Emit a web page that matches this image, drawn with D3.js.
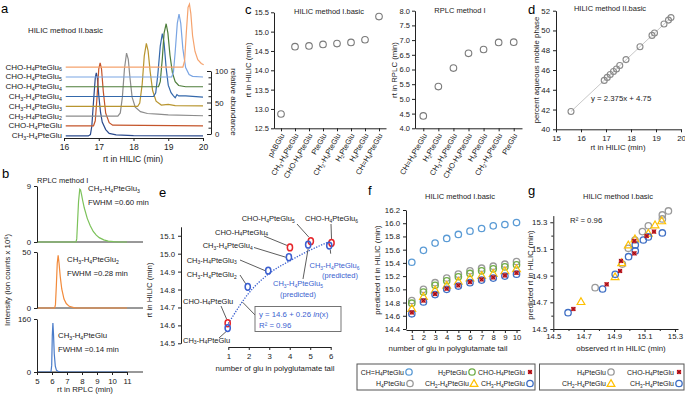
<!DOCTYPE html>
<html>
<head>
<meta charset="utf-8">
<script src="https://cdn.jsdelivr.net/npm/d3@7"></script>
<style>
  body { margin: 0; background: #fff; }
  svg { font-family: "Liberation Sans", Arial, sans-serif; }
</style>
</head>
<body>
<svg id="fig" width="685" height="395"></svg>
<script>
// ---------- data ----------
// a: HILIC chromatograms, [rt, relative abundance]
const aNames = ["CH_3-H_4PteGlu", "CHO-H_4PteGlu", "CH_3-H_4PteGlu_2", "CH_3-H_4PteGlu_3",
  "CH_3-H_4PteGlu_4", "CHO-H_4PteGlu_4", "CHO-H_4PteGlu_5", "CHO-H_4PteGlu_6"];
const aTraces = [
  [[16.05,0],[16.7,0],[16.76,2],[16.8,15],[16.85,55],[16.9,92],[16.93,100],[16.96,92],[17.0,65],[17.05,38],[17.1,22],[17.2,10],[17.3,4],[17.5,1.5],[18,0.5],[20,0]],
  [[16.05,0],[16.85,0],[16.9,8],[16.95,45],[17.0,90],[17.04,100],[17.08,90],[17.13,55],[17.2,20],[17.3,5],[17.4,1],[20,0]],
  [[16.05,0],[17.55,0],[17.62,5],[17.68,30],[17.74,75],[17.8,100],[17.85,90],[17.9,60],[17.96,30],[18.05,14],[18.2,7],[18.4,4],[18.7,3],[19,2],[20,0.5]],
  [[16.05,0],[18.12,0],[18.18,5],[18.25,35],[18.31,80],[18.37,100],[18.42,88],[18.48,55],[18.55,25],[18.65,8],[18.8,2],[19.0,3],[19.2,1],[20,0.5]],
  [[16.05,0],[18.58,0],[18.64,6],[18.7,35],[18.77,80],[18.83,100],[18.88,85],[18.94,45],[19.0,18],[19.08,6],[19.15,1],[19.2,-2],[19.25,3],[19.3,1],[19.5,1],[20,-1]],
  [[16.05,0],[18.72,0],[18.77,8],[18.83,45],[18.88,85],[18.94,100],[18.99,85],[19.05,50],[19.12,22],[19.2,8],[19.3,2],[19.5,0],[20,0]],
  [[16.05,0],[19.1,0],[19.15,8],[19.2,40],[19.26,85],[19.31,100],[19.36,85],[19.42,45],[19.5,15],[19.6,4],[19.7,1],[20,0]],
  [[16.05,0],[19.42,0],[19.47,10],[19.52,55],[19.57,95],[19.61,100],[19.65,85],[19.7,50],[19.77,25],[19.85,12],[19.95,6],[20.02,4]]
];

// b: RPLC peaks, [rt, intensity x 10^6]
const bNames = ["CH_3-H_4PteGlu_3", "CH_3-H_4PteGlu_2", "CH_3-H_4PteGlu"];
const bFwhm = ["FWHM =0.60 min", "FWHM =0.28 min", "FWHM =0.14 min"];
const bMax = [9, 50, 160];
const bTraces = [
  [[5,0],[7.6,0],[7.65,0.5],[7.7,3],[7.77,6.5],[7.85,8.5],[7.9,8.4],[7.97,7.6],[8.05,6.6],[8.15,5.5],[8.35,3.8],[8.55,2.6],[8.75,1.7],[8.95,1.1],[9.15,0.7],[9.45,0.35],[9.75,0.15],[10.1,0.05],[10.4,0],[11,0]],
  [[5,0],[6.18,0],[6.23,3],[6.29,20],[6.35,40],[6.41,47],[6.47,40],[6.55,28],[6.65,17],[6.8,8],[6.95,4],[7.15,1.5],[7.45,0.3],[7.65,0],[11,0]],
  [[5,0],[5.93,0],[5.98,20],[6.02,110],[6.06,148],[6.1,115],[6.15,55],[6.22,18],[6.3,5],[6.45,1],[6.6,0],[11,0]]
];

// c: retention times of monoglutamates
const cHilicCats = ["pABGlu", "CH_3-H_4PteGlu", "CHO-H_4PteGlu", "PteGlu", "CH_2-H_4PteGlu", "H_2PteGlu", "H_4PteGlu", "CH=H_4PteGlu"];
const cHilicRt = [12.87, 14.61, 14.63, 14.67, 14.69, 14.72, 14.79, 15.39];
const cRplcCats = ["CH=H_4PteGlu", "H_2PteGlu", "CH_3-H_4PteGlu", "CHO-H_4PteGlu", "H_4PteGlu", "CH_2-H_4PteGlu", "PteGlu"];
const cRplcRt = [4.42, 5.42, 6.05, 6.55, 6.68, 6.92, 6.93];

// d: rt vs percent aqueous phase
const dRt = [15.6, 16.93, 17.05, 17.17, 17.3, 17.42, 17.55, 17.8, 18.36, 18.84, 18.94, 19.32, 19.5, 19.6];
const dPct = [41.8, 44.95, 45.25, 45.55, 45.85, 46.1, 46.45, 47.05, 48.35, 49.5, 49.75, 50.65, 51.05, 51.3];
const dEquation = "y = 2.375x + 4.75";

// e: rt vs number of glutamates
const eFitGlu = [1, 2, 3, 4, 5, 6];
const eFitRt = [14.61, 14.78, 14.89, 14.96, 15.02, 15.07];
const eCh3Glu = [0.97, 1.95, 2.95, 3.96, 4.9, 5.93];
const eCh3Rt = [14.585, 14.815, 14.905, 14.98, 15.05, 15.045];
const eChoGlu = [0.97, 4.01, 5.03, 6.04];
const eChoRt = [14.612, 15.035, 15.07, 15.06];

// f: predicted rt per glu count
const fGlu = [1, 2, 3, 4, 5, 6, 7, 8, 9, 10];
const fNames = ["CH=H_4PteGlu", "H_4PteGlu", "H_2PteGlu", "CH_2-H_4PteGlu", "CH_3-H_4PteGlu", "CHO-H_4PteGlu"];
const fPred = [
  [15.41, 15.59, 15.70, 15.77, 15.83, 15.88, 15.92, 15.96, 15.98, 16.01],
  [14.83, 15.00, 15.10, 15.17, 15.23, 15.28, 15.32, 15.35, 15.38, 15.42],
  [14.79, 14.96, 15.06, 15.13, 15.19, 15.24, 15.28, 15.31, 15.34, 15.37],
  [14.71, 14.89, 14.99, 15.06, 15.12, 15.17, 15.21, 15.24, 15.28, 15.31],
  [14.63, 14.81, 14.92, 15.00, 15.05, 15.10, 15.14, 15.17, 15.20, 15.23],
  [14.65, 14.83, 14.93, 15.01, 15.06, 15.11, 15.15, 15.18, 15.21, 15.25]
];

// g: observed vs predicted
const gNames = ["H_4PteGlu", "CH_2-H_4PteGlu", "CH_3-H_4PteGlu", "CHO-H_4PteGlu"];
const gObs = [
  [14.775, 14.954, 14.993, 15.037, 15.086, 15.125, 15.217, 15.217, 15.257],
  [14.682, 14.906, 14.95, 14.993, 15.037, 15.125, 15.169, 15.213],
  [14.597, 14.824, 14.907, 14.995, 15.039, 15.039, 15.092, 15.125, 15.217],
  [14.632, 14.851, 14.939, 14.945, 15.033, 15.033, 15.114, 15.162]
];
const gPred = [
  [14.81, 14.987, 15.105, 15.167, 15.23, 15.274, 15.355, 15.325, 15.385],
  [14.705, 14.892, 14.997, 15.13, 15.175, 15.217, 15.28, 15.31],
  [14.622, 14.80, 14.91, 15.042, 15.085, 15.13, 15.167, 15.19, 15.22],
  [14.65, 14.835, 14.935, 15.01, 15.067, 15.16, 15.197, 15.23]
];

// ---------- styles ----------
const aColors = ["#2b4a8c", "#c4552b", "#8c8c8c", "#b8952f", "#3468ab", "#4d7d3a", "#7aa5e3", "#f5a36e"];
const aOffsets = [-3, 13, 28.5, 44, 59.5, 75, 90.5, 106];
const bColors = ["#7cc25a", "#f28a3a", "#4a7cc9"];
const seriesStyle = {
  "CH=H_4PteGlu": { shape: "circle", color: "#5b9bd5" },
  "H_4PteGlu": { shape: "circle", color: "#9a9a9a" },
  "H_2PteGlu": { shape: "circle", color: "#70ad47" },
  "CH_2-H_4PteGlu": { shape: "triangle", color: "#ffc000" },
  "CHO-H_4PteGlu": { shape: "xbox", color: "#d9272e" },
  "CH_3-H_4PteGlu": { shape: "circle", color: "#3f6fc4" }
};
const eBlue = "#3b5fcf", eRed = "#e6262b";
const FS = 7.8;

const svg = d3.select("#fig");

// text with subscripts: "CH_3" -> CH + sub 3
function chem(text, s, size) {
  const parts = s.split(/_(\d)/);
  let sub = false;
  parts.forEach((p, i) => {
    if (p === "") return;
    const t = text.append("tspan").text(p);
    if (i % 2 === 1) { t.attr("font-size", size * 0.66).attr("dy", size * 0.22); sub = true; }
    else if (sub) { t.attr("dy", -size * 0.22); sub = false; }
  });
}

function styleAxis(g) {
  g.attr("font-size", FS).attr("font-family", null);
  g.selectAll("line,path").attr("stroke", "#222");
  g.selectAll("text").attr("fill", "#222");
}

function label(x, y, str, opts = {}) {
  const t = svg.append("text").attr("x", x).attr("y", y)
    .attr("font-size", opts.size || FS).attr("fill", opts.color || "#222")
    .attr("text-anchor", opts.anchor || "start");
  if (opts.rotate) t.attr("transform", `rotate(${opts.rotate},${x},${y})`);
  if (opts.chem) chem(t, str, opts.size || FS); else t.text(str);
  return t;
}

function marker(g, shape, color, x, y) {
  if (shape === "circle") {
    g.append("circle").attr("cx", x).attr("cy", y).attr("r", 3.2)
      .attr("fill", "none").attr("stroke", color).attr("stroke-width", 1.3);
  } else if (shape === "triangle") {
    g.append("path").attr("d", d3.symbol(d3.symbolTriangle, 26)())
      .attr("transform", `translate(${x},${y + 0.6})`)
      .attr("fill", "none").attr("stroke", color).attr("stroke-width", 1.2);
  } else {
    g.append("path").attr("d", d3.symbol(d3.symbolSquare, 18)())
      .attr("transform", `translate(${x},${y})`).attr("fill", color);
    g.append("path").attr("d", "M-2,-2L2,2M2,-2L-2,2")
      .attr("transform", `translate(${x},${y})`).attr("stroke", "#7d1016").attr("stroke-width", 0.8);
  }
}

// ---------- panel letters ----------
[["a", 1, 13], ["b", 2, 178], ["c", 245, 14], ["d", 528, 14], ["e", 159, 197], ["f", 368, 195], ["g", 528, 195]]
  .forEach(([s, x, y]) => label(x, y, s, { size: 13, color: "#000" }));

// ---------- a ----------
{
  const x = d3.scaleLinear().domain([16, 20]).range([64, 203]);
  const y = d3.scaleLinear().domain([0, 100]).range([134, 71]);
  const g = svg.append("g");
  aTraces.forEach((tr, i) => {
    const line = d3.line().x(d => x(d[0])).y(d => y(d[1] + aOffsets[i]));
    g.append("path").attr("d", line(tr)).attr("fill", "none")
      .attr("stroke", aColors[i]).attr("stroke-width", 1.2);
    label(62, y(aOffsets[i]) + 2.5, aNames[i], { anchor: "end", chem: true, size: 8 });
  });
  g.append("g").attr("transform", "translate(0,138)")
    .call(d3.axisBottom(x).ticks(5).tickSize(3).tickSizeOuter(0).tickFormat(d3.format("d")))
    .call(styleAxis).attr("font-size", 8.5);
  g.append("g").attr("transform", "translate(211,0)")
    .call(d3.axisRight(y).tickValues([0, 50, 100]).tickSize(-4).tickPadding(4).tickSizeOuter(0))
    .call(styleAxis).attr("font-size", 7.8);
  g.append("g").attr("transform", "translate(211,0)")
    .call(d3.axisRight(y).tickValues([10, 20, 30, 40, 60, 70, 80, 90]).tickSize(-2.5).tickFormat(""))
    .call(styleAxis).select(".domain").remove();
  label(28, 33, "HILIC method II.basic");
  label(133, 162, "rt in HILIC (min)", { anchor: "middle", size: 8.5 });
  label(231, 102, "relative abundance", { anchor: "middle", rotate: 90, size: 8 });
}

// ---------- b ----------
{
  const x = d3.scaleLinear().domain([5, 11]).range([37, 127]);
  const boxes = [[186, 242], [252, 308], [319, 372]];
  const textPos = [[88, 191, 205], [67, 262, 276], [58, 338, 352]];
  bTraces.forEach((tr, i) => {
    const y = d3.scaleLinear().domain([0, bMax[i]]).range([boxes[i][1], boxes[i][0]]);
    const g = svg.append("g");
    g.append("line").attr("x1", x(5)).attr("x2", 143).attr("y1", y(0)).attr("y2", y(0))
      .attr("stroke", "#333").attr("stroke-width", 1);
    g.append("path").attr("d", d3.line().x(d => x(d[0])).y(d => y(d[1]))(tr))
      .attr("fill", "none").attr("stroke", bColors[i]).attr("stroke-width", 1.2);
    g.append("g").attr("transform", `translate(${x(5)},0)`)
      .call(d3.axisLeft(y).tickValues([0, bMax[i]]).tickSize(3).tickSizeOuter(0))
      .call(styleAxis);
    label(textPos[i][0], textPos[i][1], bNames[i], { chem: true });
    label(textPos[i][0], textPos[i][2], bFwhm[i]);
    if (i === 2) {
      g.append("g").attr("transform", `translate(0,${y(0)})`)
        .call(d3.axisBottom(x).ticks(6).tickSize(3).tickSizeOuter(0))
        .call(styleAxis);
    }
  });
  label(37, 183, "RPLC method I", { size: 7.5 });
  label(85, 392, "rt in RPLC (min)", { anchor: "middle" });
  label(10, 280, "Intensity (ion counts x 10⁶)", { anchor: "middle", rotate: -90 });
}

// ---------- c ----------
function catPanel(cats, vals, xr, pad, yDom, yRange, yTicks) {
  const x = d3.scalePoint().domain(cats).range(xr).padding(pad);
  const y = d3.scaleLinear().domain(yDom).range(yRange);
  const g = svg.append("g");
  g.append("g").attr("transform", `translate(${xr[0]},0)`)
    .call(d3.axisLeft(y).tickValues(yTicks).tickSize(3).tickPadding(2).tickSizeOuter(0).tickFormat(d3.format(".1f")))
    .call(styleAxis).attr("font-size", 7.5);
  g.append("g").attr("transform", `translate(0,${yRange[0]})`)
    .call(d3.axisBottom(x).tickSize(3).tickSizeOuter(0).tickFormat(""))
    .call(styleAxis);
  cats.forEach(c => {
    const px = x(c) + 2, py = yRange[0] + 6;
    g.append("text").attr("transform", `translate(${px},${py}) rotate(-60)`)
      .attr("text-anchor", "end").attr("dy", "0.3em").attr("font-size", 7.5).attr("fill", "#222")
      .call(chem, c, 7.5);
  });
  g.selectAll("circle.pt").data(vals).join("circle").attr("class", "pt")
    .attr("cx", (d, i) => x(cats[i])).attr("cy", d => y(d)).attr("r", 3.3)
    .attr("fill", "none").attr("stroke", "#7a7a7a").attr("stroke-width", 1.1);
}
catPanel(cHilicCats, cHilicRt, [274, 386], 0.5, [12.5, 15.5], [128.3, 12.3], d3.range(12.5, 15.51, 0.5));
catPanel(cRplcCats, cRplcRt, [415, 522], 0.55, [4, 8], [128.3, 10.7], d3.range(4, 8.01, 0.5));
label(329, 14, "HILIC method I.basic", { anchor: "middle", size: 7.5 });
label(460, 13, "RPLC method I", { anchor: "middle", size: 7.5 });
label(251, 70, "rt in HILIC (min)", { anchor: "middle", rotate: -90 });
label(397, 70, "rt in RPLC (min)", { anchor: "middle", rotate: -90 });

// ---------- d ----------
{
  const x = d3.scaleLinear().domain([15, 20]).range([556, 681]);
  const y = d3.scaleLinear().domain([40, 52]).range([129.3, 10.7]);
  const g = svg.append("g");
  g.append("g").attr("transform", "translate(556,0)")
    .call(d3.axisLeft(y).tickValues(d3.range(40, 53, 2)).tickSize(3).tickSizeOuter(0))
    .call(styleAxis);
  g.append("g").attr("transform", "translate(0,129.3)")
    .call(d3.axisBottom(x).ticks(5).tickSize(3).tickSizeOuter(0))
    .call(styleAxis);
  const ends = [0, dRt.length - 1].map(i => [x(dRt[i]), y(dPct[i])]);
  g.append("path").attr("d", d3.line()(ends)).attr("stroke", "#c8c8c8").attr("stroke-width", 1);
  g.selectAll("circle").data(dRt).join("circle")
    .attr("cx", d => x(d)).attr("cy", (d, i) => y(dPct[i])).attr("r", 3)
    .attr("fill", "none").attr("stroke", "#8a8a8a").attr("stroke-width", 1.1);
  label(591, 101, dEquation);
  label(610, 11, "HILIC method II.basic", { anchor: "middle", size: 7.5 });
  label(618, 150, "rt in HILIC (min)", { anchor: "middle" });
  label(539, 70, "percent aqueous mobile phase", { anchor: "middle", rotate: -90 });
}

// ---------- e ----------
{
  const x = d3.scaleLinear().domain([1, 6]).range([228.3, 330.7]);
  const y = d3.scaleLinear().domain([14.5, 15.15]).range([343.3, 226.8]);
  const g = svg.append("g");
  g.append("g").attr("transform", "translate(181,0)")
    .call(d3.axisLeft(y).tickValues(d3.range(14.5, 15.11, 0.1)).tickSize(3).tickSizeOuter(0).tickFormat(d3.format(".1f")))
    .call(styleAxis);
  g.append("g").attr("transform", "translate(0,347)")
    .call(d3.axisBottom(x).ticks(6).tickSize(3).tickSizeOuter(0))
    .call(styleAxis);
  label(152, 290, "rt in HILIC (min)", { anchor: "middle", rotate: -90 });
  label(275, 371, "number of glu in polyglutamate tail", { anchor: "middle" });

  // fit curve
  g.append("path")
    .attr("d", d3.line().curve(d3.curveMonotoneX).x(d => x(d)).y((d, i) => y(eFitRt[i]))(eFitGlu))
    .attr("fill", "none").attr("stroke", eBlue).attr("stroke-width", 1.3).attr("stroke-dasharray", "1.3,1.4");

  const P = (gl, rt) => [x(gl), y(rt)];
  const lead = (x1, y1, pt, dx, dy) => g.append("line").attr("x1", x1).attr("y1", y1)
    .attr("x2", pt[0] + dx).attr("y2", pt[1] + dy).attr("stroke", "#333").attr("stroke-width", 0.8);
  const b = i => P(eCh3Glu[i], eCh3Rt[i]);
  const r = i => P(eChoGlu[i], eChoRt[i]);
  lead(297, 224, r(2), -2, -4);
  lead(331, 224, r(3), 0, -4);
  lead(264, 236, r(1), -3, -2);
  lead(254, 247.5, b(3), -3, 0);
  lead(240, 260, b(2), -3, 0);
  lead(240, 275, b(1), -2, -3);
  lead(221, 306, r(0), -1, -4);
  lead(219, 338, b(0), -1, 3);
  lead(303, 279, b(4), 0, 4);
  lead(x(5.95) + 1, y(15.0), b(5), 1, 4);
  g.append("line").attr("x1", 242.7).attr("y1", 302.3).attr("x2", 257).attr("y2", 317)
    .attr("stroke", "#333").attr("stroke-width", 0.8);

  label(241.7, 221, "CHO-H_4PteGlu_5", { chem: true, size: 7.5 });
  label(305, 221, "CHO-H_4PteGlu_6", { chem: true, size: 7.5 });
  label(215, 234.5, "CHO-H_4PteGlu_4", { chem: true, size: 7.5 });
  label(202.7, 248, "CH_3-H_4PteGlu_4", { chem: true, size: 7.5 });
  label(186.7, 262.5, "CH_3-H_4PteGlu_3", { chem: true, size: 7.5 });
  label(186.7, 277, "CH_3-H_4PteGlu_2", { chem: true, size: 7.5 });
  label(183, 303.5, "CHO-H_4PteGlu", { chem: true, size: 7.5 });
  label(183, 342.5, "CH_3-H_4PteGlu", { chem: true, size: 7.5 });
  label(273, 286, "CH_3-H_4PteGlu_5", { chem: true, size: 7.5, color: eBlue });
  label(298, 296.5, "(predicted)", { size: 7.5, color: eBlue, anchor: "middle" });
  label(309.5, 268, "CH_3-H_4PteGlu_6", { chem: true, size: 7.5, color: eBlue });
  label(340, 278, "(predicted)", { size: 7.5, color: eBlue, anchor: "middle" });

  // equation box
  g.append("rect").attr("x", 255).attr("y", 306.5).attr("width", 86).attr("height", 25)
    .attr("fill", "#fff").attr("stroke", "#666").attr("stroke-width", 0.9);
  const eq = label(259, 316.5, "", { color: eBlue });
  eq.append("tspan").text("y = 14.6 + 0.26 ");
  eq.append("tspan").attr("font-style", "italic").text("ln");
  eq.append("tspan").text("(x)");
  label(259, 327.5, "R² = 0.96", { color: eBlue });

  // points
  eChoGlu.forEach((d, i) => g.append("ellipse").attr("cx", x(d)).attr("cy", y(eChoRt[i]))
    .attr("rx", 2.6).attr("ry", 3.4).attr("fill", "none").attr("stroke", eRed).attr("stroke-width", 1.5));
  eCh3Glu.forEach((d, i) => g.append("ellipse").attr("cx", x(d)).attr("cy", y(eCh3Rt[i]))
    .attr("rx", 2.6).attr("ry", 3.4).attr("fill", "none").attr("stroke", eBlue).attr("stroke-width", 1.5));
}

// ---------- f ----------
{
  const x = d3.scaleLinear().domain([0.5, 10.3]).range([406, 520]);
  const y = d3.scaleLinear().domain([14.4, 16.2]).range([329, 210]);
  const g = svg.append("g");
  g.append("g").attr("transform", "translate(406,0)")
    .call(d3.axisLeft(y).tickValues(d3.range(0, 10).map(i => 14.4 + 0.2 * i)).tickSize(3).tickSizeOuter(0).tickFormat(d3.format(".1f")))
    .call(styleAxis);
  g.append("g").attr("transform", "translate(0,330)")
    .call(d3.axisBottom(x).tickValues(fGlu).tickSize(3).tickPadding(1.5).tickSizeOuter(0))
    .call(styleAxis);
  fNames.forEach((n, si) => fGlu.forEach((gl, i) =>
    marker(g, seriesStyle[n].shape, seriesStyle[n].color, x(gl), y(fPred[si][i]))));
  label(460, 199, "HILIC method I.basic", { anchor: "middle", size: 7.5 });
  label(448, 350.5, "number of glu in polyglutamate tail", { anchor: "middle" });
  label(380, 270, "predicted rt in HILIC (min)", { anchor: "middle", rotate: -90 });
}

// ---------- g ----------
{
  const x = d3.scaleLinear().domain([14.5, 15.32]).range([553.3, 678]);
  const y = d3.scaleLinear().domain([14.5, 15.35]).range([329, 215.6]);
  const g = svg.append("g");
  const major = [14.5, 14.7, 14.9, 15.1, 15.3], minor = [14.6, 14.8, 15.0, 15.2];
  g.append("g").attr("transform", "translate(553.3,0)")
    .call(d3.axisLeft(y).tickValues(major).tickSize(3).tickSizeOuter(0).tickFormat(d3.format(".1f")))
    .call(styleAxis);
  g.append("g").attr("transform", "translate(553.3,0)")
    .call(d3.axisLeft(y).tickValues(minor).tickSize(2).tickFormat(""))
    .call(styleAxis).select(".domain").remove();
  g.append("g").attr("transform", "translate(0,329)")
    .call(d3.axisBottom(x).tickValues(major).tickSize(3).tickPadding(1.5).tickSizeOuter(0).tickFormat(d3.format(".1f")))
    .call(styleAxis);
  g.append("g").attr("transform", "translate(0,329)")
    .call(d3.axisBottom(x).tickValues(minor).tickSize(2).tickFormat(""))
    .call(styleAxis).select(".domain").remove();
  gNames.forEach((n, si) => gObs[si].forEach((o, i) =>
    marker(g, seriesStyle[n].shape, seriesStyle[n].color, x(o), y(gPred[si][i]))));
  label(618, 199, "HILIC method I.basic", { anchor: "middle", size: 7.5 });
  label(570, 223, "R² = 0.96");
  label(621, 350.5, "observed rt in HILIC (min)", { anchor: "middle" });
  label(533, 275, "predicted rt in HILIC (min)", { anchor: "middle", rotate: -90 });
}

// ---------- legends ----------
function legend(box, rows) {
  svg.append("rect").attr("x", box[0]).attr("y", box[1]).attr("width", box[2]).attr("height", box[3])
    .attr("fill", "none").attr("stroke", "#555").attr("stroke-width", 1);
  const g = svg.append("g");
  rows.forEach(([ry, items]) => items.forEach(([n, mx]) => {
    label(mx - 5, ry + 2.8, n, { anchor: "end", chem: true, size: 7 });
    marker(g, seriesStyle[n].shape, seriesStyle[n].color, mx, ry);
  }));
}
legend([357, 364, 178, 26], [
  [372, [["CH=H_4PteGlu", 409], ["H_2PteGlu", 472], ["CHO-H_4PteGlu", 530]]],
  [383.5, [["H_4PteGlu", 410], ["CH_2-H_4PteGlu", 474], ["CH_3-H_4PteGlu", 530]]]
]);
legend([539.5, 364, 144.5, 26], [
  [372, [["H_4PteGlu", 611], ["CHO-H_4PteGlu", 679]]],
  [383.5, [["CH_2-H_4PteGlu", 611], ["CH_3-H_4PteGlu", 679]]]
]);
</script>
</body>
</html>
